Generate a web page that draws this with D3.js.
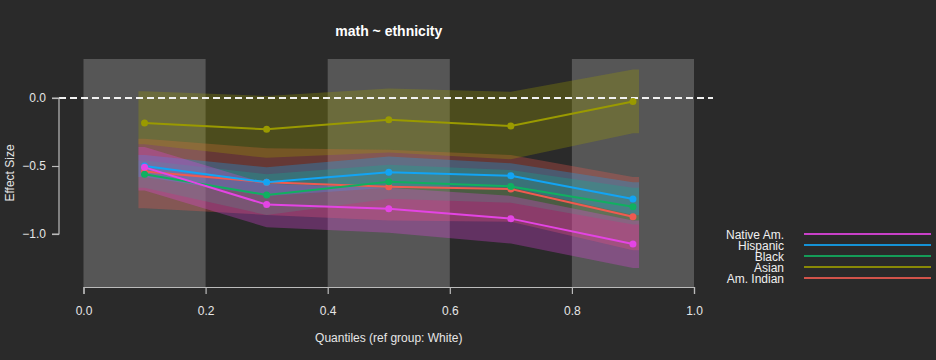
<!DOCTYPE html>
<html>
<head>
<meta charset="utf-8">
<script src="https://cdn.jsdelivr.net/npm/d3@7"></script>
<style>
  html, body { margin: 0; padding: 0; background: #2a2a2a; }
  svg { display: block; font-family: "Liberation Sans", Arial, Helvetica, sans-serif; }
</style>
</head>
<body>
<svg id="chart" width="936" height="360"></svg>
<script>
const quantiles = [0.1, 0.3, 0.5, 0.7, 0.9];
const groups = ["Native Am.", "Hispanic", "Black", "Asian", "Am. Indian"];
const colors = ["#e444e4", "#12a4f4", "#10b060", "#9a9a00", "#f05a50"];

const estNative = [-0.51, -0.784, -0.814, -0.887, -1.074];
const loNative  = [-0.68, -0.95, -0.99, -1.07, -1.25];
const hiNative  = [-0.36, -0.63, -0.66, -0.72, -0.90];

const estHispanic = [-0.50, -0.62, -0.546, -0.571, -0.743];
const loHispanic  = [-0.58, -0.72, -0.66, -0.66, -0.86];
const hiHispanic  = [-0.42, -0.51, -0.43, -0.48, -0.62];

const estBlack = [-0.56, -0.713, -0.615, -0.65, -0.80];
const loBlack  = [-0.66, -0.86, -0.74, -0.77, -0.93];
const hiBlack  = [-0.46, -0.56, -0.49, -0.53, -0.66];

const estAsian = [-0.184, -0.23, -0.16, -0.206, -0.025];
const loAsian  = [-0.34, -0.44, -0.40, -0.45, -0.26];
const hiAsian  = [0.05, 0.015, 0.07, 0.046, 0.21];

const estAmIndian = [-0.54, -0.62, -0.652, -0.67, -0.873];
const loAmIndian  = [-0.81, -0.86, -0.90, -0.91, -1.12];
const hiAmIndian  = [-0.30, -0.37, -0.38, -0.42, -0.58];

const xTicks = [0, 0.2, 0.4, 0.6, 0.8, 1.0];
const yTicks = [0, -0.5, -1.0];
const shadeBands = [[0, 0.2], [0.4, 0.6], [0.8, 1.0]];

const series = [
  {name: "Native Am.", est: estNative, lo: loNative, hi: hiNative, color: colors[0]},
  {name: "Hispanic", est: estHispanic, lo: loHispanic, hi: hiHispanic, color: colors[1]},
  {name: "Black", est: estBlack, lo: loBlack, hi: hiBlack, color: colors[2]},
  {name: "Asian", est: estAsian, lo: loAsian, hi: hiAsian, color: colors[3]},
  {name: "Am. Indian", est: estAmIndian, lo: loAmIndian, hi: hiAmIndian, color: colors[4]}
];

const svg = d3.select("#chart");
const plotL = 59, plotR = 713, plotT = 59, plotB = 287;

const x = d3.scaleLinear().domain([0, 1]).range([83.5, 694]);
const y = d3.scaleLinear().domain([0, -1]).range([98, 234]);

svg.append("rect").attr("width", 936).attr("height", 360).attr("fill", "#2a2a2a");

// shaded quantile bands
svg.append("g").selectAll("rect").data(shadeBands).join("rect")
  .attr("x", d => x(d[0]))
  .attr("width", d => x(d[1]) - x(d[0]))
  .attr("y", plotT)
  .attr("height", plotB - plotT)
  .attr("fill", "#565656");

// confidence bands (drawn from last to first so Native Am. on top)
const pad = 0.01;
const area = d3.area()
  .x(d => x(d.q))
  .y0(d => y(d.lo))
  .y1(d => y(d.hi));

const drawOrder = series.slice().reverse();
svg.append("g").selectAll("path").data(drawOrder).join("path")
  .attr("d", s => {
    const pts = quantiles.map((q, i) => ({q, lo: s.lo[i], hi: s.hi[i]}));
    const n = pts.length;
    const full = [{q: quantiles[0] - pad, lo: s.lo[0], hi: s.hi[0]}, ...pts,
                  {q: quantiles[n - 1] + pad, lo: s.lo[n - 1], hi: s.hi[n - 1]}];
    return area(full);
  })
  .attr("fill", s => s.color)
  .attr("fill-opacity", 0.3);

// zero reference line
svg.append("line")
  .attr("x1", plotL).attr("x2", plotR)
  .attr("y1", y(0)).attr("y2", y(0))
  .attr("stroke", "#f2f2f2").attr("stroke-width", 2)
  .attr("stroke-dasharray", "7,4");

// lines and points
const line = d3.line().x(d => x(d.q)).y(d => y(d.v));
const gl = svg.append("g");
drawOrder.forEach(s => {
  const pts = quantiles.map((q, i) => ({q, v: s.est[i]}));
  gl.append("path").attr("d", line(pts))
    .attr("fill", "none").attr("stroke", s.color).attr("stroke-width", 2);
  gl.append("g").selectAll("circle").data(pts).join("circle")
    .attr("cx", d => x(d.q)).attr("cy", d => y(d.v)).attr("r", 3.5)
    .attr("fill", s.color);
});

// x axis
const xAxis = d3.axisBottom(x).tickValues(xTicks).tickFormat(d3.format(".1f")).tickSize(7).tickPadding(12);
const gx = svg.append("g").attr("transform", `translate(0,${plotB})`).call(xAxis);
gx.select(".domain").attr("stroke", "#bbbbbb").attr("stroke-width", 1.2);
gx.selectAll(".tick line").attr("stroke", "#bbbbbb").attr("stroke-width", 1.2);
gx.selectAll(".tick text").attr("fill", "#e6e6e6").attr("font-size", 12)
  .attr("font-family", "'Liberation Sans', Arial, sans-serif");

// y axis
const yAxis = d3.axisLeft(y).tickValues(yTicks).tickFormat(d3.format(".1f")).tickSize(7).tickPadding(6);
const gy = svg.append("g").attr("transform", `translate(${plotL},0)`).call(yAxis);
gy.select(".domain").attr("stroke", "#bbbbbb").attr("stroke-width", 1.2)
  .attr("d", `M-7,${y(0)}H0V${y(-1)}H-7`);
gy.selectAll(".tick line").attr("stroke", "#bbbbbb").attr("stroke-width", 1.2);
gy.selectAll(".tick text").attr("fill", "#e6e6e6").attr("font-size", 12)
  .attr("font-family", "'Liberation Sans', Arial, sans-serif");

// title and labels
svg.append("text").attr("x", (x(0) + x(1)) / 2).attr("y", 36)
  .attr("text-anchor", "middle").attr("fill", "#ffffff")
  .attr("font-size", 14).attr("font-weight", "bold")
  .text("math ~ ethnicity");

svg.append("text").attr("x", (x(0) + x(1)) / 2).attr("y", 342)
  .attr("text-anchor", "middle").attr("fill", "#e6e6e6").attr("font-size", 12)
  .text("Quantiles (ref group: White)");

svg.append("text")
  .attr("transform", `translate(14,${(plotT + plotB) / 2}) rotate(-90)`)
  .attr("text-anchor", "middle").attr("fill", "#e6e6e6").attr("font-size", 12)
  .text("Effect Size");

// legend
const lg = svg.append("g");
series.forEach((s, i) => {
  const ly = 234 + i * 11;
  lg.append("text").attr("x", 784).attr("y", ly + 4.5)
    .attr("text-anchor", "end").attr("fill", "#f0f0f0").attr("font-size", 12)
    .text(s.name);
  lg.append("line").attr("x1", 804).attr("x2", 931).attr("y1", ly).attr("y2", ly)
    .attr("stroke", s.color).attr("stroke-width", 2).attr("stroke-opacity", 0.85);
});
</script>
</body>
</html>
